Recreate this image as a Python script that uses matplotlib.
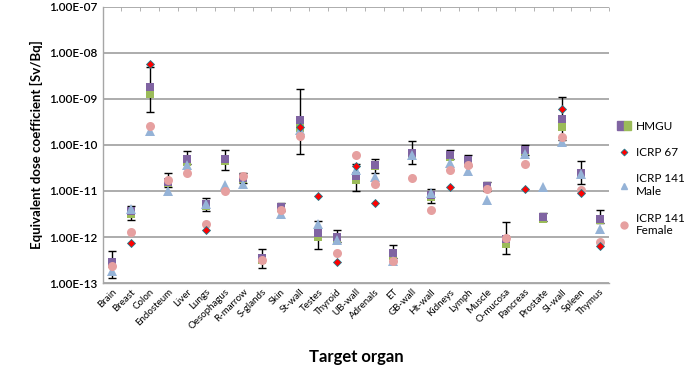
import numpy as np
import matplotlib
matplotlib.use("Agg")
import matplotlib.pyplot as plt
from matplotlib.ticker import FixedLocator, FuncFormatter
from matplotlib.patches import Patch
from matplotlib.lines import Line2D
from matplotlib.legend_handler import HandlerTuple

plt.rcParams["font.family"] = ["Lato", "DejaVu Sans"]

nan = np.nan
organs = ["Brain", "Breast", "Colon", "Endosteum", "Liver", "Lungs", "Oesophagus",
          "R-marrow", "S-glands", "Skin", "St-wall", "Testes", "Thyroid", "UB-wall",
          "Adrenals", "ET", "GB-wall", "Ht-wall", "Kidneys", "Lymph", "Muscle",
          "O-mucosa", "Pancreas", "Prostate", "SI-wall", "Spleen", "Thymus"]

hmgu_purple = [2.9e-13, 3.7e-12, 1.8e-9, 1.6e-11, 4.9e-11, 5.1e-12, 4.9e-11, 1.9e-11,
               3.5e-13, 4.5e-12, 3.5e-10, 1.2e-12, 1.0e-12, 2.1e-11, 3.7e-11, 4.4e-13,
               6.8e-11, 8.1e-12, 5.9e-11, 4.7e-11, 1.3e-11, 9.0e-13, 7.8e-11, 2.7e-12,
               3.6e-10, 2.5e-11, 2.5e-12]
hmgu_green = [2.6e-13, 3.2e-12, 1.26e-9, 1.5e-11, 4.3e-11, 4.8e-12, 4.4e-11, 1.8e-11,
              3.2e-13, 4.2e-12, 2.3e-10, 1.0e-12, 9.2e-13, 1.75e-11, 3.4e-11, 3.9e-13,
              6.2e-11, 7.4e-12, 5.4e-11, 4.3e-11, 1.2e-11, 7.2e-13, 7.2e-11, 2.5e-12,
              2.4e-10, 2.3e-11, 2.3e-12]
err_high = [5.1e-13, 4.7e-12, 5.0e-9, 2.4e-11, 7.2e-11, 7.2e-12, 7.7e-11, 2.4e-11,
            5.6e-13, 5.6e-12, 1.6e-9, 2.2e-12, 1.4e-12, 3.8e-11, 4.9e-11, 6.6e-13,
            1.2e-10, 1.1e-11, 7.6e-11, 5.9e-11, 1.6e-11, 2.1e-12, 1.0e-10, 3.4e-12,
            1.07e-9, 4.4e-11, 3.9e-12]
err_low = [1.3e-13, 2.3e-12, 5.2e-10, 1.2e-11, 3.9e-11, 3.6e-12, 2.8e-11, 1.5e-11,
           2.1e-13, 3.7e-12, 6.3e-11, 5.6e-13, 8.0e-13, 1.0e-11, 2.5e-11, 3.5e-13,
           3.8e-11, 5.5e-12, 5.0e-11, 3.5e-11, 1.0e-11, 4.3e-13, 6.0e-11, 2.2e-12,
           1.3e-10, 1.4e-11, 2.0e-12]
icrp67 = [nan, 7.5e-13, 5.6e-9, nan, nan, 1.4e-12, nan, nan, nan, nan, 2.4e-10,
          7.8e-12, 2.9e-13, 3.4e-11, 5.5e-12, nan, nan, nan, 1.2e-11, nan, nan, nan,
          1.1e-11, nan, 6.0e-10, 9.0e-12, 6.3e-13]
icrp141_male = [1.8e-13, 4.1e-12, 2.0e-10, 1.0e-11, 3.6e-11, 5.1e-12, 1.35e-11, 1.4e-11,
                nan, 3.2e-12, 2.1e-10, 1.9e-12, 8.5e-13, 2.8e-11, 2.0e-11, 3.0e-13,
                5.9e-11, 9.0e-12, 4.1e-11, 2.7e-11, 6.5e-12, nan, 6.2e-11, 1.2e-11,
                1.15e-10, 2.3e-11, 1.5e-12]
icrp141_female = [2.3e-13, 1.3e-12, 2.6e-10, 1.7e-11, 2.5e-11, 1.95e-12, 1.0e-11, 2.1e-11,
                  3.1e-13, 3.9e-12, 1.6e-10, nan, 4.6e-13, 6.0e-11, 1.4e-11, 3.0e-13,
                  1.9e-11, 3.8e-12, 2.9e-11, 3.6e-11, 1.1e-11, 9.7e-13, 3.8e-11, nan,
                  1.5e-10, 1.07e-11, 7.8e-13]

x = np.arange(len(organs))
mid = np.sqrt(np.array(err_high) * np.array(err_low))
yerr = [mid - np.array(err_low), np.array(err_high) - mid]

fig = plt.figure(figsize=(6.85, 3.73), dpi=100)
ax = fig.add_axes([0.150, 0.241, 0.739, 0.741])

ax.errorbar(x, mid, yerr=yerr, fmt="none", ecolor="black", elinewidth=1.0,
            capsize=3, capthick=1.0, zorder=3)
ax.plot(x, hmgu_green, "s", color="#9BBB59", ms=6, mew=0, zorder=4)
ax.plot(x, hmgu_purple, "s", color="#8064A2", ms=6, mew=0, zorder=5)
ax.plot(x, icrp141_male, "^", color="#95B3D7", ms=6.5, mew=0, zorder=6)
ax.plot(x, icrp141_female, "o", color="#E6A0A0", ms=6.5, mew=0, zorder=7)
ax.plot(x, icrp67, "D", color="#FF0000", mec="#1F7A8C", mew=0.6, ms=4.5, zorder=8)

ax.set_yscale("log")
ax.set_ylim(1e-13, 1e-7)
ax.set_xlim(-0.5, len(organs) - 0.5)
ax.yaxis.set_major_locator(FixedLocator([10.0 ** e for e in range(-13, -6)]))
ax.yaxis.set_minor_locator(FixedLocator([]))
ax.yaxis.set_major_formatter(FuncFormatter(lambda v, p: "%.2E" % v))
ax.grid(axis="y", color="#A6A6A6", lw=1.3)
ax.set_axisbelow(True)

ax.set_xticks(x)
ax.set_xticklabels(organs, rotation=45, ha="right", rotation_mode="anchor", fontsize=7)
ax.set_xticks(np.arange(len(organs) + 1) - 0.5, minor=True)
ax.tick_params(axis="x", which="major", length=0, pad=3)
ax.tick_params(axis="x", which="minor", top=True, bottom=False, direction="in",
               length=3, color="#A6A6A6")
ax.tick_params(axis="y", length=0, labelsize=8.5, pad=4)
for t in ax.get_yticklabels():
    t.set_fontweight("semibold")

for s in ["top", "right"]:
    ax.spines[s].set_visible(False)
for s in ["left", "bottom"]:
    ax.spines[s].set_color("#A6A6A6")
    ax.spines[s].set_linewidth(1.0)

ax.set_ylabel("Equivalent dose coefficient [Sv/Bq]", fontsize=9.5, fontweight="bold")
ax.set_xlabel("Target organ", fontsize=12, fontweight="bold", labelpad=13)

handles = [
    (Patch(color="#8064A2"), Patch(color="#9BBB59")),
    Line2D([], [], ls="none", marker="D", color="#FF0000", mec="#1F7A8C", mew=0.6, ms=3.5),
    Line2D([], [], ls="none", marker="^", color="#95B3D7", ms=5),
    Line2D([], [], ls="none", marker="o", color="#E6A0A0", ms=5),
]
labels = ["HMGU", "ICRP 67", "ICRP 141\nMale", "ICRP 141\nFemale"]
fig.legend(handles, labels, loc="upper left", bbox_to_anchor=(0.885, 0.705),
           frameon=False, fontsize=8.5, handlelength=1.2, handletextpad=0.4,
           labelspacing=1.3, handler_map={tuple: HandlerTuple(ndivide=None, pad=0)})

fig.savefig("out.png", dpi=100)
